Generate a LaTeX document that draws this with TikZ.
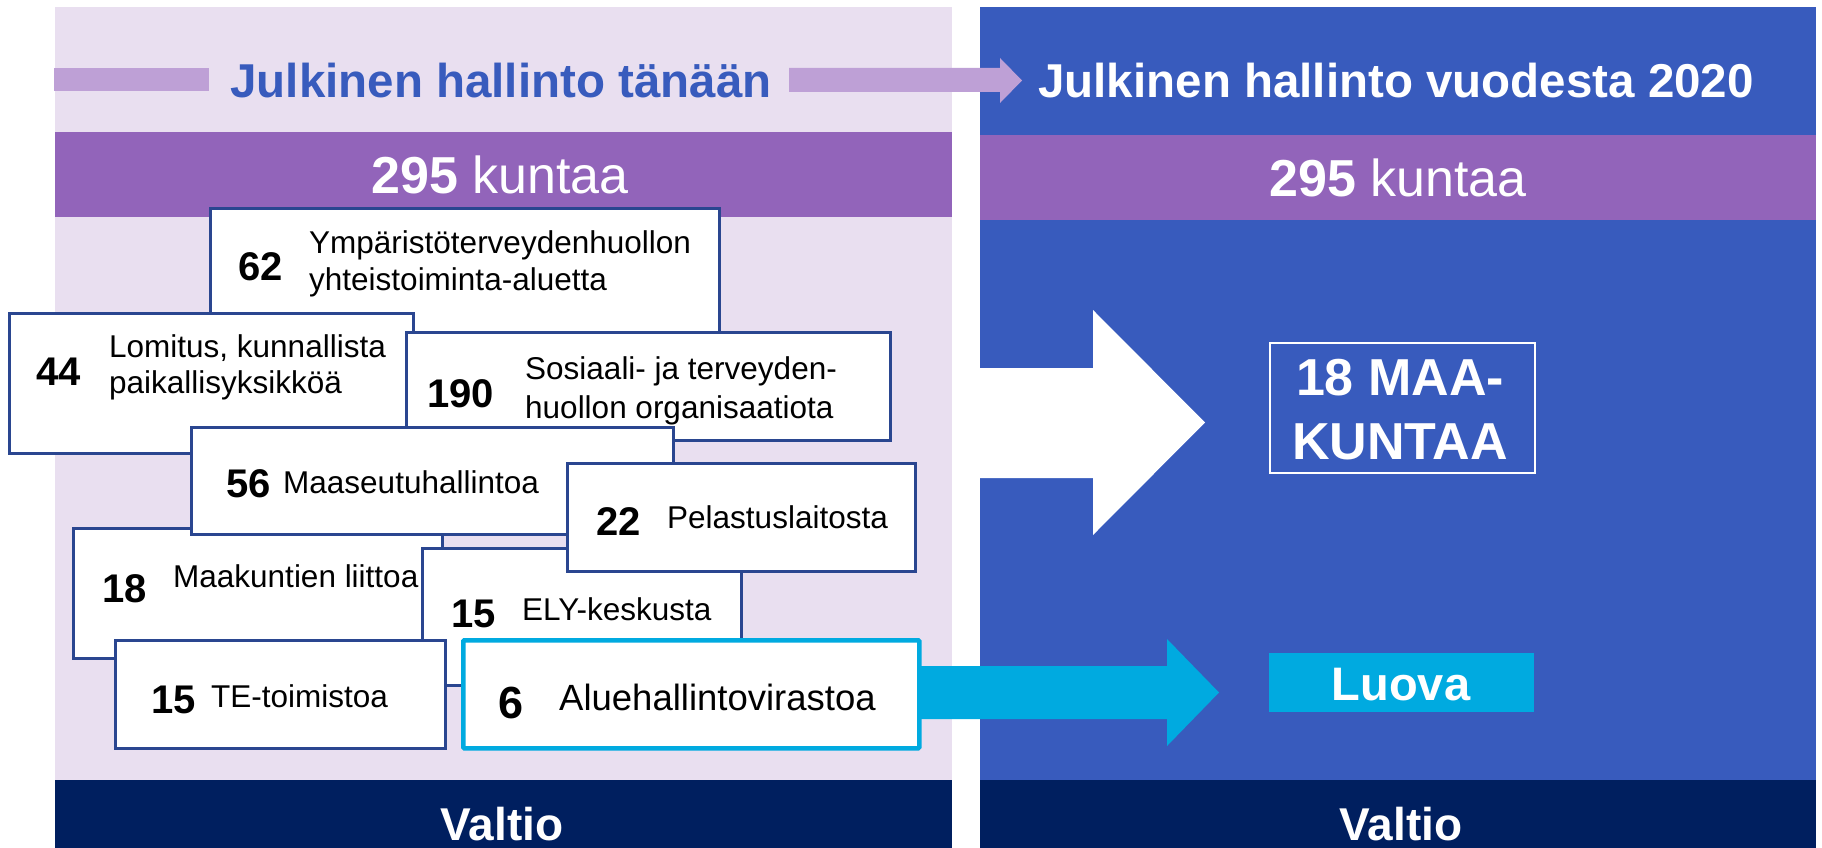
\documentclass[tikz,border=0pt]{standalone}
\usepackage{fontspec}
\setmainfont{Liberation Sans}
\definecolor{lav}{HTML}{E9DFF0}
\definecolor{purp}{HTML}{9264BA}
\definecolor{barlav}{HTML}{BEA0D6}
\definecolor{panelblue}{HTML}{385BBD}
\definecolor{navy}{HTML}{001F5F}
\definecolor{cyanc}{HTML}{00AAE0}
\definecolor{boxblue}{HTML}{2A4690}
\begin{document}
\begin{tikzpicture}[x=1pt,y=-1pt,
  orgbox/.style={draw=boxblue, line width=2.5pt, fill=white, inner sep=0pt, anchor=north west},
  num/.style={font=\bfseries\fontsize{40}{40}\selectfont, anchor=base west, inner sep=0pt},
  lbl/.style={font=\fontsize{31.5}{37}\selectfont, anchor=base west, inner sep=0pt},
  title/.style={font=\bfseries\fontsize{47.5}{50}\selectfont, anchor=base, inner sep=0pt},
  kunta/.style={font=\fontsize{52}{55}\selectfont, text=white, anchor=base, inner sep=0pt},
  valtio/.style={font=\bfseries\fontsize{46}{50}\selectfont, text=white, anchor=base, inner sep=0pt},
  big/.style={font=\bfseries\fontsize{52}{56}\selectfont, text=white, anchor=base, inner sep=0pt}]
\useasboundingbox (0,0) rectangle (1822,848);
\fill[white] (0,0) rectangle (1822,848);
% panels
\fill[lav] (55,7) rectangle (952,781);
\fill[navy] (55,780) rectangle (952,848);
\fill[panelblue] (980,7) rectangle (1816,781);
\fill[navy] (980,780) rectangle (1816,848);
\fill[purp] (55,132) rectangle (952,217);
\fill[purp] (980,135) rectangle (1816,220);
% title decorations
\fill[barlav] (54,68) rectangle (209,91);
\fill[barlav] (789,68) -- (1000,68) -- (1000,58) -- (1022,80.5) -- (1000,103) -- (1000,92) -- (789,92) -- cycle;
\node[title, text=panelblue] (t1) at (501,98) {Julkinen hallinto tänään};
\node[title, text=white] (t2) at (1396,98) {Julkinen hallinto vuodesta 2020};
\node[kunta] (k1) at (500,193) {\textbf{295} kuntaa};
\node[kunta] (k2) at (1398,196) {\textbf{295} kuntaa};
% boxes
\node[orgbox, minimum width=509pt, minimum height=133pt] (b62) at (209,207) {};
\node[num] (n62) at (238,280) {62};
\node[lbl] (l62a) at (309,253) {Ympäristöterveydenhuollon};
\node[lbl] (l62b) at (309,290) {yhteistoiminta-aluetta};
\node[orgbox, minimum width=404pt, minimum height=140pt] (b44) at (8,312) {};
\node[num] (n44) at (36,385) {44};
\node[lbl] (l44a) at (109,357) {Lomitus, kunnallista};
\node[lbl] (l44b) at (109,393) {paikallisyksikköä};
\node[orgbox, minimum width=484pt, minimum height=108pt] (b190) at (405,331) {};
\node[num] (n190) at (427,407) {190};
\node[lbl] (l190a) at (525,379) {Sosiaali- ja terveyden-};
\node[lbl] (l190b) at (525,418) {huollon organisaatiota};
\node[orgbox, minimum width=369pt, minimum height=130pt] (b18) at (72,527) {};
\node[num] (n18) at (102,602) {18};
\node[lbl] (l18) at (173,587) {Maakuntien liittoa};
\node[orgbox, minimum width=482pt, minimum height=107pt] (b56) at (190,426) {};
\node[num] (n56) at (226,497) {56};
\node[lbl] (l56) at (283,493) {Maaseutuhallintoa};
\node[orgbox, minimum width=319pt, minimum height=137pt] (bely) at (421,547) {};
\node[num] (nely) at (451,627) {15};
\node[lbl] (lely) at (522,620) {ELY-keskusta};
\node[orgbox, minimum width=348pt, minimum height=108pt] (b22) at (566,462) {};
\node[num] (n22) at (596,535) {22};
\node[lbl] (l22) at (667,528) {Pelastuslaitosta};
\node[orgbox, minimum width=330pt, minimum height=108pt] (bte) at (114,639) {};
\node[num] (nte) at (151,713) {15};
\node[lbl] (lte) at (211,707) {TE-toimistoa};
\node[orgbox, draw=cyanc, line width=4.5pt, rounded corners=1pt, minimum width=456pt, minimum height=108pt] (balue) at (461,638) {};
\node[num, font=\bfseries\fontsize{45}{45}\selectfont] (nalue) at (498,718) {6};
\node[lbl, font=\fontsize{36.5}{40}\selectfont] (lalue) at (559,710) {Aluehallintovirastoa};
% right side targets
\node[draw=white, line width=1.5pt, inner sep=0pt, minimum width=265pt, minimum height=130pt, anchor=north west] (maak) at (1269,342) {};
\node[big] (m1) at (1400,395) {18 MAA-};
\node[big] (m2) at (1400,459) {KUNTAA};
\node[fill=cyanc, inner sep=0pt, minimum width=265pt, minimum height=59pt, anchor=north west] (luova) at (1269,653) {};
\node[font=\bfseries\fontsize{47}{50}\selectfont, text=white, anchor=base, inner sep=0pt] (luovat) at (1401,700) {Luova};
% arrows
\fill[white] (980,368) -- (1093,368) -- (1093,310) -- (1205,422.5) -- (1093,535) -- (1093,478) -- (980,478) -- cycle;
\fill[cyanc] (919,666) -- (1167,666) -- (1167,639) -- (1219,692.5) -- (1167,746) -- (1167,719) -- (919,719) -- cycle;
% Valtio
\node[valtio] (v1) at (502,840) {Valtio};
\node[valtio] (v2) at (1401,840) {Valtio};
\end{tikzpicture}
\end{document}
